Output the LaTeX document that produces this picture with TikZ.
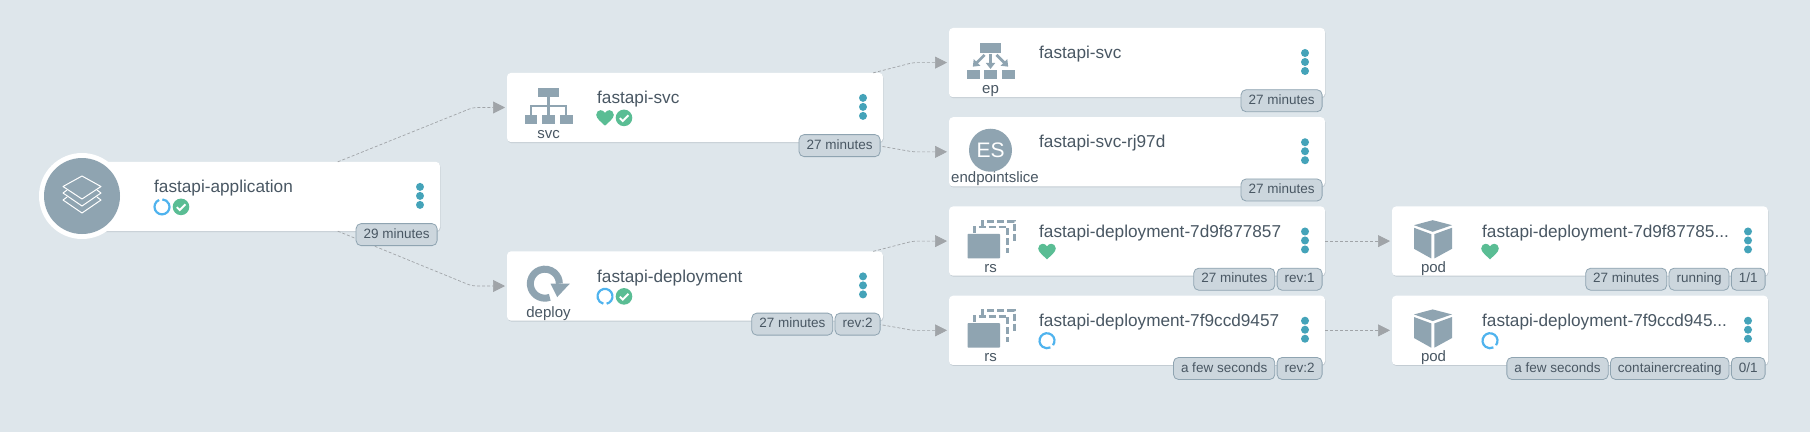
\documentclass[tikz,border=0pt]{standalone}
\usepackage{fontspec}
\setmainfont{Liberation Sans}
\usetikzlibrary{positioning, arrows.meta}

\definecolor{bgcol}{HTML}{DEE6EB}
\definecolor{cardline}{HTML}{C3CCD3}
\definecolor{icongrey}{HTML}{8FA4B1}
\definecolor{textcol}{HTML}{495763}
\definecolor{badgecol}{HTML}{CCD6DD}
\definecolor{dotcol}{HTML}{44A3B9}
\definecolor{okgreen}{HTML}{5ABD94}
\definecolor{spinblue}{HTML}{4FB3EE}
\definecolor{edgecol}{HTML}{A0A4A8}

\tikzset{
  pics/heart/.style={code={
    \fill[okgreen] (0,7.8) .. controls (-3,4.8) and (-8.8,0.7) .. (-8.8,-3)
      .. controls (-8.8,-6) and (-6.5,-7.7) .. (-4.4,-7.7)
      .. controls (-2.5,-7.7) and (-1,-6.7) .. (0,-5)
      .. controls (1,-6.7) and (2.5,-7.7) .. (4.4,-7.7)
      .. controls (6.5,-7.7) and (8.8,-6) .. (8.8,-3)
      .. controls (8.8,0.7) and (3,4.8) .. (0,7.8) -- cycle;
  }},
  pics/check/.style={code={
    \fill[okgreen] (0,0) circle[radius=8.3pt];
    \draw[white, line width=1.9pt] (-4.2,0.3) -- (-1.2,3.2) -- (4.4,-2.6);
  }},
  pics/spinner/.style={code={
    \draw[spinblue, line width=2.2pt] (#1+13:7.5pt) arc[start angle=#1+13, delta angle=334, radius=7.5pt];
  }},
  pics/svcicon/.style={code={
    \fill[icongrey] (-10.7,-18.3) rectangle (10.3,-9);
    \foreach \bx in {-24,-6.3,11.3} \fill[icongrey] (\bx,9) rectangle ++(12.7,9.3);
    \draw[icongrey, line width=2.5pt] (0,-9) -- (0,9) (-17.7,9) -- (-17.7,0) -- (17.7,0) -- (17.7,9);
  }},
  pics/epicon/.style={code={
    \fill[icongrey] (-10.3,-17.7) rectangle (10.3,-8.3);
    \foreach \bx in {-24,-6.7,11} \fill[icongrey] (\bx,9.3) rectangle ++(13,8.7);
    \draw[icongrey, line width=2.8pt, -{Triangle[length=6pt,width=9pt]}] (0,-7) -- (0,8);
    \draw[icongrey, line width=2.8pt, -{Triangle[length=6pt,width=9pt]}] (-6,-6) -- (-17.7,5.7);
    \draw[icongrey, line width=2.8pt, -{Triangle[length=6pt,width=9pt]}] (6,-6) -- (17.7,5.7);
  }},
  pics/deployicon/.style={code={
    \draw[icongrey, line width=7pt] (1.3,12.9) arc[start angle=-70, end angle=-360, radius=14.5pt];
    \fill[icongrey] (2,-0.7) -- (21.3,-0.7) -- (8.7,12.7) -- cycle;
  }},
  pics/rsicon/.style={code={
    \draw[icongrey, line width=2.6pt, dash pattern=on 7pt off 3pt] (-8.2,-13) -- (-8.2,-18) -- (23.8,-18) -- (23.8,3.3);
    \draw[icongrey, line width=2.6pt, dash pattern=on 7pt off 3pt] (-16.2,-6.7) -- (-16.2,-12.3) -- (17.2,-12.3) -- (17.2,13.3);
    \fill[icongrey, rounded corners=0.8pt] (-23,-5.7) rectangle (9.5,19);
  }},
  pics/podicon/.style={code={
    \fill[icongrey] (-19.5,-14.3) -- (-0.8,-19.3) -- (18.5,-14.3) -- (-0.8,-7.7) -- cycle;
    \fill[icongrey] (-19.5,-11.7) -- (-2.2,-5.3) -- (-2.2,19) -- (-19.5,9.3) -- cycle;
    \fill[icongrey] (0.8,-5.3) -- (18.5,-11.7) -- (18.5,9.3) -- (0.8,19) -- cycle;
  }},
}

% title, menu dots and anchor points of one card
\newcommand{\rescard}[2]{
  \node[title] (#1-title) at ([shift={(90,26.5)}]#1.north west) {#2};
  \foreach \n/\dy in {1/25, 2/34, 3/43}
    \node[dot] (#1-dot\n) at ([shift={(-20,\dy)}]#1.north east) {};
  \coordinate (#1-icon) at ([shift={(41.5,33)}]#1.north west);
  \coordinate (#1-st1) at ([shift={(98,45)}]#1.north west);
  \coordinate (#1-st2) at ([shift={(117,45)}]#1.north west);
}
\newcommand{\kindlabel}[2]{
  \node[kind] (#1-kind) at ([shift={(41.5,62)}]#1.north west) {#2};
}

\begin{document}
\begin{tikzpicture}[
    x=1pt, y=-1pt,
    card/.style={rectangle, fill=white, rounded corners=4pt, minimum width=376pt, minimum height=69.25pt, outer sep=0pt,
      preaction={fill=cardline, transform canvas={xshift=0.5pt, yshift=-1pt}}},
    title/.style={anchor=west, inner sep=0pt, text=textcol, text height=12pt, text depth=3.5pt, font=\fontsize{17.2}{20}\selectfont},
    kind/.style={inner sep=0pt, text=textcol, text height=10.5pt, text depth=3pt, font=\fontsize{15}{18}\selectfont},
    badge/.style={rectangle, draw=icongrey, fill=badgecol, line width=0.8pt, rounded corners=5pt, text=textcol,
      inner xsep=7.5pt, inner ysep=0pt, minimum height=22pt, text height=10pt, text depth=2.5pt, font=\fontsize{13.5}{16}\selectfont},
    dot/.style={circle, fill=dotcol, inner sep=0pt, minimum size=8pt},
    edge/.style={draw=edgecol, line width=0.7pt, dash pattern=on 3pt off 2pt, rounded corners=4pt,
      -{Triangle[length=12pt,width=12pt,fill=edgecol]}, shorten >=2pt}
  ]

  \useasboundingbox (0,0) rectangle (1810,432);
  \fill[bgcol] (0,0) rectangle (1810,432);

  % cards
  \node[card] (app) at (252,196.5) {};
  \node[card] (svc) at (695,107.5) {};
  \node[card] (deploy) at (695,286) {};
  \node[card] (ep) at (1137,62.6) {};
  \node[card, below=20pt of ep] (es) {};
  \node[card, below=20pt of es] (rsa) {};
  \node[card, below=20pt of rsa] (rsb) {};
  \node[card, right=67pt of rsa] (poda) {};
  \node[card, right=67pt of rsb] (podb) {};

  % connectors
  \coordinate (svc-in) at ([xshift=-34pt]svc.west);
  \coordinate (deploy-in) at ([xshift=-35pt]deploy.west);
  \coordinate (ep-in) at ([xshift=-36pt]ep.west);
  \coordinate (es-in) at ([xshift=-36pt]es.west);
  \coordinate (rsa-in) at ([xshift=-36pt]rsa.west);
  \coordinate (rsb-in) at ([xshift=-36pt]rsb.west);
  \draw[edge] (app.22) -- (svc-in) -- (svc.west);
  \draw[edge] (app.338) -- (deploy-in) -- (deploy.west);
  \draw[edge] (svc.11.5) -- (ep-in) -- (ep.west);
  \draw[edge] (svc.348.5) -- (es-in) -- (es.west);
  \draw[edge] (deploy.11.5) -- (rsa-in) -- (rsa.west);
  \draw[edge] (deploy.348.5) -- (rsb-in) -- (rsb.west);
  \draw[edge] (rsa.east) -- (poda.west);
  \draw[edge] (rsb.east) -- (podb.west);

  % card contents
  \rescard{app}{fastapi-application}
  \rescard{svc}{fastapi-svc}
  \rescard{deploy}{fastapi-deployment}
  \rescard{ep}{fastapi-svc}
  \rescard{es}{fastapi-svc-rj97d}
  \rescard{rsa}{fastapi-deployment-7d9f877857}
  \rescard{rsb}{fastapi-deployment-7f9ccd9457}
  \rescard{poda}{fastapi-deployment-7d9f87785...}
  \rescard{podb}{fastapi-deployment-7f9ccd945...}
  \kindlabel{svc}{svc}
  \kindlabel{deploy}{deploy}
  \kindlabel{ep}{ep}
  \node[kind] (es-kind) at ([shift={(46,62)}]es.north west) {endpointslice};
  \kindlabel{rsa}{rs}
  \kindlabel{rsb}{rs}
  \kindlabel{poda}{pod}
  \kindlabel{podb}{pod}

  % application circle
  \node[circle, fill=white, inner sep=0pt, minimum size=86pt] (app-ring) at (82,196) {};
  \node[circle, fill=icongrey, inner sep=0pt, minimum size=76pt] (app-disc) at (app-ring) {};
  \begin{scope}[shift={(app-ring)}, white, line width=1pt, line join=round, line cap=round]
    \draw (-19,-9.5) -- (0,-20) -- (19,-9.5) -- (0,3) -- cycle;
    \draw (-15,-6) -- (-19,-3) -- (0,10) -- (19,-3) -- (15,-6);
    \draw (-15,1) -- (-19,4) -- (0,17) -- (19,4) -- (15,1);
  \end{scope}

  % kind icons
  \pic at (svc-icon) {svcicon};
  \pic at (deploy-icon) {deployicon};
  \pic at (ep-icon) {epicon};
  \node[circle, fill=icongrey, inner sep=0pt, minimum size=43pt, text=white, font=\fontsize{21}{24}\selectfont] (es-disc) at (es-icon) {ES};
  \pic at (rsa-icon) {rsicon};
  \pic at (rsb-icon) {rsicon};
  \pic at (poda-icon) {podicon};
  \pic at (podb-icon) {podicon};

  % status icons
  \pic at (app-st1) {spinner=100};
  \pic at (app-st2) {check};
  \pic at (svc-st1) {heart};
  \pic at (svc-st2) {check};
  \pic at (deploy-st1) {spinner=270};
  \pic at (deploy-st2) {check};
  \pic at (rsa-st1) {heart};
  \pic at (rsb-st1) {spinner=310};
  \pic at (poda-st1) {heart};
  \pic at (podb-st1) {spinner=310};

  % badges
  \node[badge, anchor=east] (app-age) at ([shift={(-2.5,3.5)}]app.south east) {29 minutes};
  \node[badge, anchor=east] (svc-age) at ([shift={(-2.5,3.5)}]svc.south east) {27 minutes};
  \node[badge, anchor=east] (deploy-rev) at ([shift={(-2.5,3.5)}]deploy.south east) {rev:2};
  \node[badge, left=1.5pt of deploy-rev] (deploy-age) {27 minutes};
  \node[badge, anchor=east] (ep-age) at ([shift={(-2.5,3.5)}]ep.south east) {27 minutes};
  \node[badge, anchor=east] (es-age) at ([shift={(-2.5,3.5)}]es.south east) {27 minutes};
  \node[badge, anchor=east] (rsa-rev) at ([shift={(-2.5,3.5)}]rsa.south east) {rev:1};
  \node[badge, left=1.5pt of rsa-rev] (rsa-age) {27 minutes};
  \node[badge, anchor=east] (rsb-rev) at ([shift={(-2.5,3.5)}]rsb.south east) {rev:2};
  \node[badge, left=1.5pt of rsb-rev] (rsb-age) {a few seconds};
  \node[badge, anchor=east] (poda-ready) at ([shift={(-2.5,3.5)}]poda.south east) {1/1};
  \node[badge, left=1.5pt of poda-ready] (poda-phase) {running};
  \node[badge, left=1.5pt of poda-phase] (poda-age) {27 minutes};
  \node[badge, anchor=east] (podb-ready) at ([shift={(-2.5,3.5)}]podb.south east) {0/1};
  \node[badge, left=1.5pt of podb-ready] (podb-phase) {containercreating};
  \node[badge, left=1.5pt of podb-phase] (podb-age) {a few seconds};

\end{tikzpicture}
\end{document}
